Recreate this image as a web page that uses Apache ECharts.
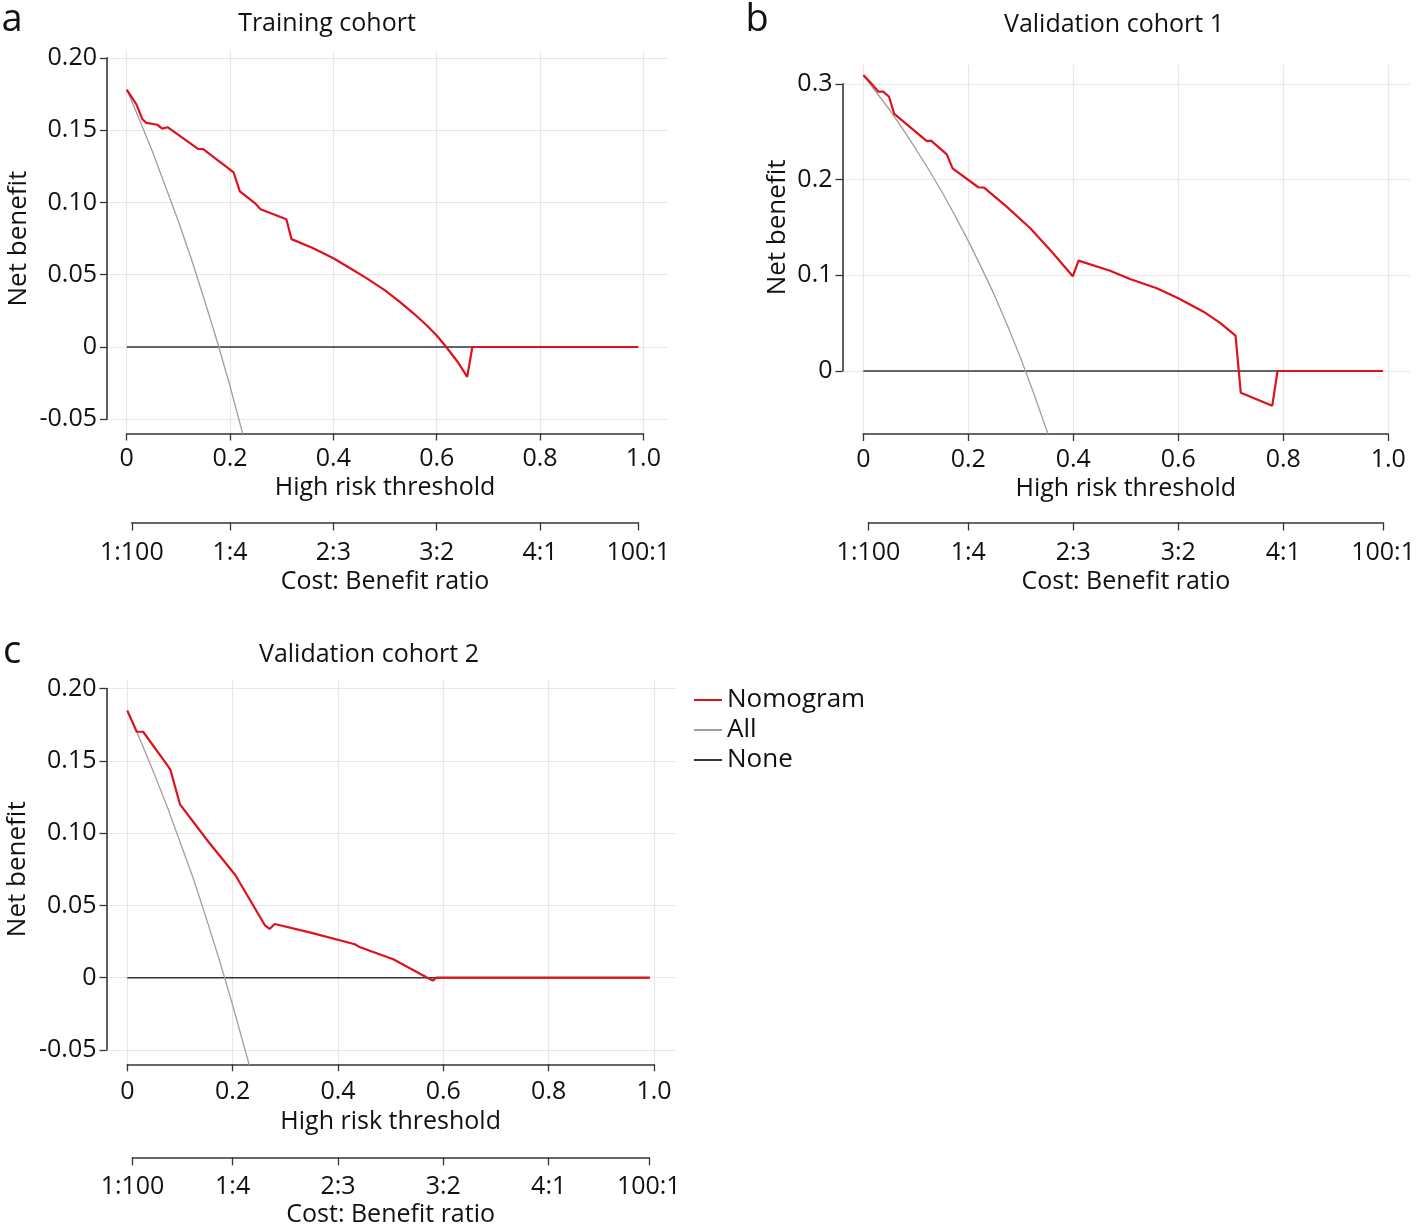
<!DOCTYPE html>
<html>
<head>
<meta charset="utf-8">
<title>Decision curves</title>
<script src="https://cdn.jsdelivr.net/npm/echarts@6/dist/echarts.min.js"></script>
<style>
html, body { margin: 0; padding: 0; background: #fff; }
#chart { width: 1418px; height: 1225px; }
</style>
</head>
<body>
<div id="chart"></div>
<script>
// axis ticks
var thresholdTicks = [0, 0.2, 0.4, 0.6, 0.8, 1.0];
var ratioLabels = ['1:100', '1:4', '2:3', '3:2', '4:1', '100:1'];
var ratioTicks = [0.0099, 0.2, 0.4, 0.6, 0.8, 0.9901];
var benefitTicksSmall = [-0.05, 0, 0.05, 0.10, 0.15, 0.20];
var benefitTicksLarge = [0, 0.1, 0.2, 0.3];
var seriesNames = ['Nomogram', 'All', 'None'];

// a - Training cohort
var trainNomogram = [
  [0, 0.178], [0.019, 0.1676], [0.030, 0.1577], [0.038, 0.155], [0.059, 0.1537],
  [0.069, 0.151], [0.079, 0.152], [0.138, 0.137], [0.148, 0.1369], [0.207, 0.1207],
  [0.219, 0.1076], [0.248, 0.0995], [0.259, 0.0953], [0.309, 0.0884], [0.319, 0.0746],
  [0.360, 0.0685], [0.400, 0.0614], [0.430, 0.055], [0.464, 0.0476], [0.500, 0.0392],
  [0.528, 0.0314], [0.555, 0.0233], [0.580, 0.0152], [0.600, 0.008], [0.618, 0.0002],
  [0.640, -0.0100], [0.659, -0.0206], [0.669, 0], [0.990, 0]
];
var trainAll = [
  [0, 0.178], [0.025, 0.157], [0.05, 0.135], [0.075, 0.111], [0.1, 0.087],
  [0.125, 0.061], [0.15, 0.033], [0.175, 0.004], [0.2, -0.027], [0.226, -0.062]
];
var trainNone = [[0, 0], [0.99, 0]];

// b - Validation cohort 1
var valid1Nomogram = [
  [0, 0.3093], [0.011, 0.303], [0.029, 0.2919], [0.038, 0.2919], [0.049, 0.2866],
  [0.059, 0.2686], [0.121, 0.2403], [0.129, 0.2407], [0.159, 0.2264], [0.170, 0.2118],
  [0.219, 0.192], [0.230, 0.1916], [0.273, 0.1717], [0.318, 0.1491], [0.356, 0.1264],
  [0.399, 0.0990], [0.410, 0.1153], [0.470, 0.1048], [0.508, 0.0961], [0.559, 0.0864],
  [0.600, 0.0760], [0.648, 0.0620], [0.679, 0.0505], [0.709, 0.0369], [0.719, -0.0227],
  [0.779, -0.0362], [0.789, 0], [0.990, 0]
];
var valid1All = [
  [0, 0.309], [0.025, 0.291], [0.05, 0.273], [0.075, 0.253], [0.1, 0.232],
  [0.125, 0.210], [0.15, 0.187], [0.175, 0.162], [0.2, 0.136], [0.225, 0.108],
  [0.25, 0.079], [0.275, 0.047], [0.3, 0.013], [0.325, -0.024], [0.352, -0.066]
];
var valid1None = [[0, 0], [0.99, 0]];

// c - Validation cohort 2
var valid2Nomogram = [
  [0, 0.1847], [0.018, 0.1701], [0.030, 0.1701], [0.078, 0.1459], [0.082, 0.1436],
  [0.100, 0.1199], [0.154, 0.094], [0.205, 0.071], [0.261, 0.0364], [0.270, 0.0337],
  [0.280, 0.0371], [0.350, 0.031], [0.432, 0.0231], [0.442, 0.0210], [0.505, 0.0127],
  [0.568, 0.0003], [0.580, -0.0020], [0.587, 0], [0.992, 0]
];
var valid2All = [
  [0, 0.185], [0.025, 0.164], [0.05, 0.142], [0.075, 0.119], [0.1, 0.094],
  [0.125, 0.069], [0.15, 0.041], [0.175, 0.012], [0.2, -0.019], [0.232, -0.061]
];
var valid2None = [[0, 0], [0.992, 0]];

// layout of each panel (pixels): x0/y0 = where 0 sits, xs/ys = px per unit
var panels = [
  { letter: 'a', title: 'Training cohort', nomogram: trainNomogram, all: trainAll, none: trainNone,
    yTicks: benefitTicksSmall, yDigits: 2,
    x0: 126.7, xs: 516.7, y0: 347, ys: 1446, box: [107, 51, 668, 433.5], ratioY: 522.5,
    labelGap: 13, nameGap: 42, ratioLabelGap: 18, ratioNameGap: 47,
    titleX: 327, titleY: 24, letterX: 12, letterY: 20, yNameGap: 75 },
  { letter: 'b', title: 'Validation cohort 1', nomogram: valid1Nomogram, all: valid1All, none: valid1None,
    yTicks: benefitTicksLarge, yDigits: 1,
    x0: 863.3, xs: 525, y0: 371, ys: 957, box: [842.5, 65, 1410, 434], ratioY: 522.5,
    labelGap: 13, nameGap: 42, ratioLabelGap: 18, ratioNameGap: 47,
    titleX: 1114, titleY: 25, letterX: 757, letterY: 20, yNameGap: 52 },
  { letter: 'c', title: 'Validation cohort 2', nomogram: valid2Nomogram, all: valid2All, none: valid2None,
    yTicks: benefitTicksSmall, yDigits: 2,
    x0: 127.3, xs: 526.7, y0: 977.7, ys: 1446, box: [106.5, 680, 676, 1064.3], ratioY: 1157.3,
    labelGap: 15, nameGap: 45, ratioLabelGap: 17, ratioNameGap: 45,
    titleX: 369, titleY: 655, letterX: 12, letterY: 652, yNameGap: 76 }
];

var FONT = '"Open Sans", "Noto Sans", sans-serif';
var TEXT = '#111111';
var AXIS = '#2e3838';
var GRIDLINE = '#ebe5e3';
var RED = '#e0101c';
var GREY = '#a39c9a';
var DARK = '#2b3939';

var myChart = echarts.init(document.getElementById('chart'));
var option = {
  animation: false,
  backgroundColor: '#fff',
  textStyle: { fontFamily: FONT },
  grid: [], xAxis: [], yAxis: [], series: [], graphic: [],
  legend: {
    data: seriesNames,
    orient: 'vertical',
    left: 694, top: 685, padding: 0,
    icon: 'rect', itemWidth: 28, itemHeight: 2, itemGap: 0,
    textStyle: { fontFamily: FONT, fontSize: 26, color: TEXT, lineHeight: 30 }
  }
};

panels.forEach(function (p) {
  var yMin = p.yTicks[0], yMax = p.yTicks[p.yTicks.length - 1];
  var xMin = thresholdTicks[0], xMax = thresholdTicks[thresholdTicks.length - 1];
  var gi = option.grid.length;

  // plot area (gridlines + curves)
  option.grid.push({ left: p.box[0], top: p.box[1], width: p.box[2] - p.box[0], height: p.box[3] - p.box[1], outerBoundsMode: 'none' });
  option.xAxis.push({ type: 'value', gridIndex: gi, show: false,
    min: (p.box[0] - p.x0) / p.xs, max: (p.box[2] - p.x0) / p.xs });
  option.yAxis.push({ type: 'value', gridIndex: gi, show: false,
    min: (p.y0 - p.box[3]) / p.ys, max: (p.y0 - p.box[1]) / p.ys });

  // axes, only over the tick range
  var axTop = p.y0 - p.ys * yMax;
  var axH = p.ys * (yMax - yMin);
  option.grid.push({ left: p.x0, top: axTop, width: p.xs * (xMax - xMin), height: axH, outerBoundsMode: 'none' });
  option.xAxis.push({
    type: 'value', gridIndex: gi + 1, min: xMin, max: xMax, interval: thresholdTicks[1] - thresholdTicks[0],
    offset: p.box[3] - (axTop + axH),
    axisLine: { onZero: false, lineStyle: { color: AXIS, width: 1.6 } },
    axisTick: { inside: false, length: 7, lineStyle: { color: AXIS, width: 1.3 } },
    axisLabel: { margin: p.labelGap, fontFamily: FONT, fontSize: 25, color: TEXT,
      formatter: function (v) { return Math.abs(v) < 1e-9 ? '0' : v.toFixed(1); } },
    splitLine: { show: false },
    name: 'High risk threshold', nameLocation: 'middle', nameGap: p.nameGap,
    nameTextStyle: { fontFamily: FONT, fontSize: 25, color: TEXT }
  });
  option.yAxis.push({
    type: 'value', gridIndex: gi + 1, min: yMin, max: yMax, interval: p.yTicks[1] - p.yTicks[0],
    offset: p.x0 - p.box[0],
    axisLine: { onZero: false, lineStyle: { color: AXIS, width: 1.6 } },
    axisTick: { inside: false, length: 7, lineStyle: { color: AXIS, width: 1.3 } },
    axisLabel: { margin: 10, fontFamily: FONT, fontSize: 25, color: TEXT,
      formatter: function (v) { return Math.abs(v) < 1e-9 ? '0' : v.toFixed(p.yDigits); } },
    splitLine: { show: false },
    name: 'Net benefit', nameLocation: 'middle', nameGap: p.yNameGap,
    nameTextStyle: { fontFamily: FONT, fontSize: 26, color: TEXT }
  });

  // cost:benefit ratio axis
  var r0 = ratioTicks[0], r1 = ratioTicks[ratioTicks.length - 1];
  option.grid.push({ left: p.x0 + p.xs * r0, top: p.ratioY - 10, width: p.xs * (r1 - r0), height: 10, outerBoundsMode: 'none' });
  option.xAxis.push({
    type: 'value', gridIndex: gi + 2, min: r0, max: r1,
    axisLine: { onZero: false, lineStyle: { color: AXIS, width: 1.6 } },
    axisTick: { inside: false, length: 8, customValues: ratioTicks, lineStyle: { color: AXIS, width: 1.3 } },
    axisLabel: { margin: p.ratioLabelGap, fontFamily: FONT, fontSize: 25, color: TEXT, customValues: ratioTicks,
      formatter: function (v) {
        for (var k = 0; k < ratioTicks.length; k++) {
          if (Math.abs(ratioTicks[k] - v) < 1e-6) return ratioLabels[k];
        }
        return '';
      } },
    splitLine: { show: false },
    name: 'Cost: Benefit ratio', nameLocation: 'middle', nameGap: p.ratioNameGap,
    nameTextStyle: { fontFamily: FONT, fontSize: 25, color: TEXT }
  });
  option.yAxis.push({ type: 'value', gridIndex: gi + 2, show: false, min: 0, max: 1 });

  // gridlines
  var gridMarks = [];
  thresholdTicks.forEach(function (t) { gridMarks.push({ xAxis: t }); });
  p.yTicks.forEach(function (t) { gridMarks.push({ yAxis: t }); });
  option.series.push({
    type: 'line', name: 'grid', xAxisIndex: gi, yAxisIndex: gi, data: [], z: 0, silent: true,
    markLine: { z: 0, silent: true, symbol: ['none', 'none'], label: { show: false }, animation: false,
      emphasis: { disabled: true },
      lineStyle: { color: GRIDLINE, width: 1.2, type: 'solid' }, data: gridMarks }
  });

  option.series.push({ type: 'line', name: 'None', xAxisIndex: gi, yAxisIndex: gi, data: p.none,
    showSymbol: false, symbol: 'none', z: 2, silent: true, lineStyle: { color: DARK, width: 1.5 }, itemStyle: { color: DARK } });
  option.series.push({ type: 'line', name: 'All', xAxisIndex: gi, yAxisIndex: gi, data: p.all,
    showSymbol: false, symbol: 'none', z: 3, silent: true, lineStyle: { color: GREY, width: 1.3 }, itemStyle: { color: GREY } });
  option.series.push({ type: 'line', name: 'Nomogram', xAxisIndex: gi, yAxisIndex: gi, data: p.nomogram,
    showSymbol: false, symbol: 'none', z: 4, silent: true, lineStyle: { color: RED, width: 2.2 }, itemStyle: { color: RED } });

  // titles and panel letters
  option.graphic.push({ type: 'text', x: p.titleX, y: p.titleY, silent: true,
    style: { text: p.title, font: '25px ' + FONT, fill: TEXT, align: 'center', verticalAlign: 'middle', textAlign: 'center', textVerticalAlign: 'middle' } });
  option.graphic.push({ type: 'text', x: p.letterX, y: p.letterY, silent: true,
    style: { text: p.letter, font: '38px ' + FONT, fill: TEXT, align: 'center', verticalAlign: 'middle', textAlign: 'center', textVerticalAlign: 'middle' } });
});

myChart.setOption(option);
</script>
</body>
</html>
